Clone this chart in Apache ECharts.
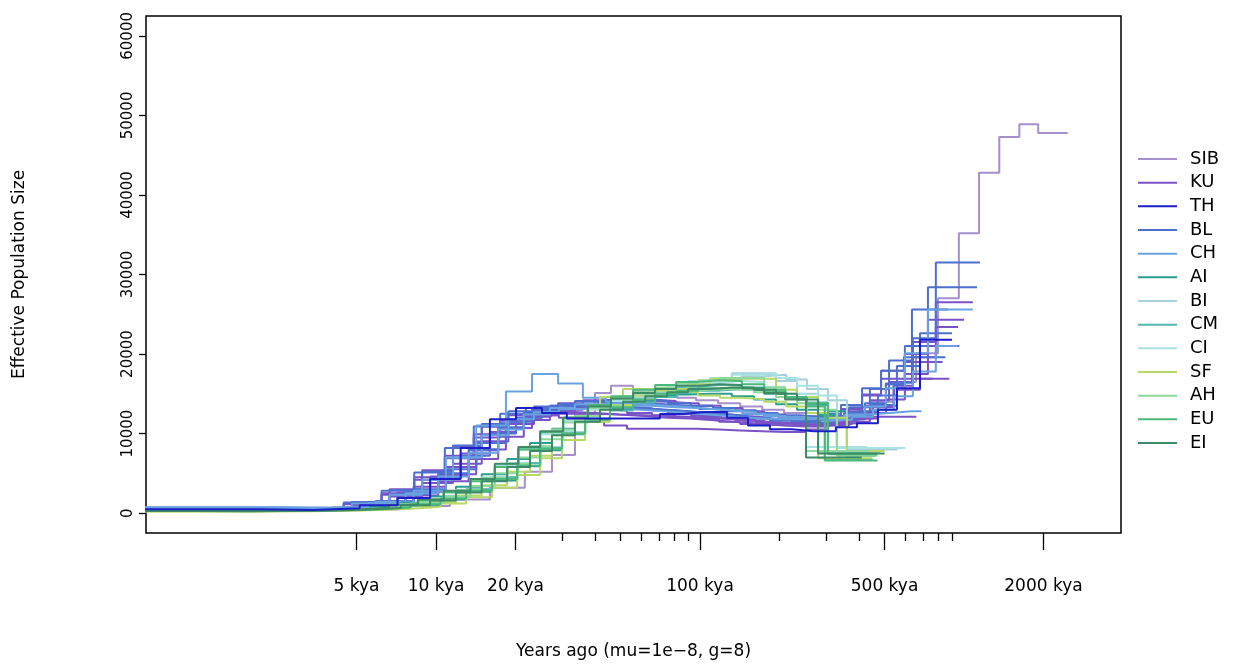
<!DOCTYPE html>
<html>
<head>
<meta charset="utf-8">
<script src="https://cdn.jsdelivr.net/npm/echarts@6/dist/echarts.min.js"></script>
<style>
  html, body { margin: 0; padding: 0; background: #fff; }
  #chart { width: 1235px; height: 666px; }
</style>
</head>
<body>
<div id="chart"></div>
<script>
(function() {
  var font = 'DejaVu Sans';

  // ── populations (legend order) ──
  var popNames = ['SIB', 'KU', 'TH', 'BL', 'CH', 'AI', 'BI', 'CM', 'CI', 'SF', 'AH', 'EU', 'EI'];
  var popColors = ['#a58fcc', '#7b52c6', '#1c1ec8', '#4d70d0', '#69a2e0', '#2a9d8f', '#a5d0dc',
                   '#52b8b0', '#a8e2e4', '#b5d866', '#8fd89a', '#4cb87a', '#3d8a66'];

  // ── axis ticks ──
  var xMajorKya = [5, 10, 20, 100, 500, 2000];
  var xMajorLabels = ['5 kya', '10 kya', '20 kya', '100 kya', '500 kya', '2000 kya'];
  var xMinorKya = [30, 40, 50, 60, 70, 80, 90, 200, 300, 400, 600, 700, 800, 900];
  var yTicks = [0, 10000, 20000, 30000, 40000, 50000, 60000];
  var xMin = 0.797, xMax = 3932;

  // ── PSMC interval start times (kya), per sample scaling ──
  var gridA = [0.6, 1.96, 3.22, 4.80, 6.67, 8.86, 11.6, 14.9, 18.8, 23.5, 29.2, 35.7, 43.3, 52.9, 65.8, 80.4, 97.5, 118, 142, 172, 208, 252, 305, 367, 440, 520, 635];
  var gridB = [0.6, 2.1, 3.45, 5.14, 7.15, 9.5, 12.4, 16.0, 20.1, 25.2, 31.3, 38.3, 46.4, 56.7, 70.5, 86.2, 104.5, 126.6, 152, 184, 223, 270, 327, 393, 472, 557, 681];
  var gridC = [0.6, 2.25, 3.7, 5.51, 7.66, 10.2, 13.3, 17.2, 21.5, 27.0, 33.6, 41.1, 49.7, 60.8, 75.6, 92.4, 112, 136, 163, 197, 239, 289, 351, 421, 506, 597, 730];
  var gridD = [0.6, 2.41, 3.96, 5.91, 8.22, 10.9, 14.2, 18.4, 23.1, 29.0, 36.0, 44.0, 53.3, 65.1, 81.0, 99.0, 120, 145, 175, 211, 256, 310, 376, 452, 542, 640, 782];
  var gridE = [0.6, 1.83, 3.0, 4.47, 6.22, 8.27, 10.8, 13.9, 17.5, 21.9, 27.2, 33.3, 40.4, 49.3, 61.3, 75.0, 90.9, 110, 132, 160, 194, 235, 284, 342, 411, 485, 592];
  var gridG = [0.6, 1.25, 2.05, 3.05, 4.24, 5.63, 7.35, 9.49, 11.9, 14.9, 18.6, 22.7, 27.5, 33.6, 41.8, 51.1, 62.0, 75.1, 90.1, 109, 132, 160, 194, 233, 280, 330, 404];
  var gridH = [0.6, 1.12, 1.84, 2.74, 3.82, 5.07, 6.62, 8.54, 10.7, 13.5, 16.7, 20.5, 24.8, 30.3, 37.6, 46.0, 55.8, 67.6, 81.2, 98.3, 119, 144, 175, 210, 252, 297, 364];
  var gridI = [0.6, 1.36, 2.23, 3.33, 4.63, 6.15, 8.02, 10.4, 13.0, 16.3, 20.3, 24.8, 30.0, 36.7, 45.6, 55.8, 67.6, 81.9, 98.3, 119, 144, 175, 212, 254, 305, 360, 441];
  var gridSIB = [0.6, 3.95, 7.3, 11.3, 16.0, 21.7, 27.5, 33.6, 40.0, 46.0, 55.7, 67.5, 81.8, 96.6, 117, 142, 172, 208, 252, 306, 370, 448, 543, 658, 797, 956, 1140, 1360, 1620, 1910];

  // ── effective population size per interval ──
  var sib1 = [300, 500, 900, 1700, 3200, 5200, 7300, 12500, 15100, 16000, 15300, 14800, 14500, 14200, 13800, 13400, 13000, 12600, 12200, 12000, 12500, 14000, 16500, 20100, 27000, 35200, 42800, 47300, 48900, 47800];

  var ku1 = [600, 450, 700, 1300, 2600, 4600, 7500, 10200, 12000, 13000, 13500, 13400, 13200, 13000, 12800, 12600, 12400, 12200, 12000, 11700, 11400, 11200, 11300, 11900, 13500, 15500, 16900];
  var ku2 = [500, 400, 650, 1400, 3000, 5400, 8300, 10900, 12300, 12900, 13200, 13100, 12900, 12600, 12300, 12000, 11800, 11500, 11200, 11000, 10900, 10900, 11400, 12300, 14200, 16500, 19000];
  var ku3 = [550, 420, 600, 1100, 2200, 4000, 6800, 9600, 11700, 12800, 13600, 14000, 14100, 14000, 13800, 13500, 13200, 12900, 12500, 12100, 11800, 11600, 11800, 12600, 14300, 17500, 21000];
  var ku4 = [450, 380, 550, 1000, 2100, 3800, 6200, 9000, 11200, 12300, 12000, 11500, 11000, 10600, 10600, 10600, 10500, 10400, 10300, 10200, 10200, 10500, 11000, 11500, 12100, 12100, 12100];
  var ku5 = [650, 500, 750, 1500, 3300, 5800, 9000, 11600, 13000, 13800, 14200, 14400, 14300, 14100, 13800, 13500, 13200, 12800, 12400, 12000, 11700, 11600, 12000, 13300, 16000, 19600, 23400];
  var ku6 = [500, 420, 620, 1200, 2500, 4500, 7200, 9900, 11600, 12400, 12700, 12600, 12400, 12200, 12000, 11900, 11700, 11500, 11300, 11100, 11000, 11200, 11700, 12800, 14800, 17900, 19000];
  var ku7 = [520, 430, 630, 1250, 2600, 4800, 7900, 10600, 12300, 13100, 13400, 13300, 13100, 12900, 12600, 12300, 12000, 11700, 11400, 11200, 11100, 11300, 12000, 13500, 16300, 20000, 24300];
  var ku8 = [480, 400, 580, 1100, 2300, 4200, 6900, 9500, 11300, 12100, 12500, 12500, 12400, 12300, 12200, 12100, 12000, 11800, 11600, 11400, 11300, 11500, 12100, 13100, 14900, 16900, 16900];
  var ku9 = [560, 460, 680, 1300, 2700, 4900, 8000, 10700, 12300, 13000, 13300, 13200, 13000, 12800, 12500, 12200, 11900, 11600, 11300, 11100, 11000, 11200, 11900, 13400, 16500, 21500, 26500];

  var th1 = [500, 400, 600, 1000, 1900, 4300, 8200, 11800, 13200, 12600, 11900, 11900, 11900, 11900, 12450, 12700, 12700, 12000, 11000, 10550, 10300, 10300, 10800, 11300, 13000, 15700, 21800];

  var bl1 = [700, 600, 800, 1500, 3000, 5500, 8800, 11500, 13000, 13600, 14000, 14000, 13800, 13600, 13400, 13100, 12800, 12500, 12200, 11900, 11700, 11800, 12300, 13600, 16400, 22000, 31500];
  var bl2 = [600, 500, 700, 1300, 2700, 5000, 8000, 10800, 12600, 13500, 14100, 14300, 14300, 14100, 13800, 13500, 13200, 12900, 12600, 12300, 12100, 12100, 12600, 13800, 16200, 21000, 28400];
  var bl3 = [550, 450, 650, 1200, 2400, 4400, 7200, 10000, 12000, 13000, 13400, 13400, 13200, 13000, 12800, 12600, 12400, 12200, 11900, 11600, 11400, 11400, 11800, 12800, 14800, 18500, 22600];
  var bl4 = [650, 550, 750, 1400, 2900, 5200, 8500, 11200, 12800, 13400, 13700, 13600, 13400, 13200, 12900, 12700, 12500, 12300, 12000, 11800, 11600, 11700, 12200, 13300, 15600, 19200, 25600];
  var bl5 = [600, 520, 720, 1350, 2800, 5100, 8200, 10900, 12500, 13200, 13500, 13500, 13400, 13200, 13000, 12800, 12600, 12300, 12000, 11800, 11700, 11900, 12500, 13600, 15700, 17900, 19600];

  var ch1 = [750, 700, 800, 1400, 2800, 7000, 11000, 15300, 17500, 16300, 14500, 14000, 13500, 13300, 13200, 13000, 12800, 12500, 12200, 11900, 11700, 11700, 12100, 13000, 14700, 17800, 21000];
  var ch2 = [600, 500, 700, 1200, 2300, 4200, 7000, 9800, 11800, 12700, 13100, 13200, 13100, 12900, 12700, 12500, 12300, 12100, 11900, 11800, 11800, 11900, 12100, 12400, 12600, 12800, 12800];
  var ch3 = [550, 480, 650, 1250, 2500, 4600, 7600, 10500, 12400, 13200, 13700, 13800, 13700, 13500, 13300, 13100, 12900, 12700, 12400, 12100, 11900, 11900, 12300, 13400, 15700, 20100, 25600];

  var ai1 = [300, 260, 300, 360, 470, 680, 1050, 1700, 2700, 4100, 5900, 7900, 9900, 11600, 13000, 14000, 14700, 15200, 15500, 15600, 15400, 15000, 14400, 13600, 12800, 7200, 7200];
  var ai2 = [340, 300, 340, 420, 560, 820, 1300, 2100, 3300, 4900, 6800, 8800, 10600, 12100, 13300, 14100, 14600, 14900, 15000, 15000, 14700, 14300, 13700, 13000, 12300, 8200, 8200];
  var bi1 = [320, 280, 320, 390, 520, 760, 1200, 1900, 3000, 4500, 6300, 8300, 10200, 11900, 13400, 14500, 15300, 15900, 16400, 16800, 17200, 17400, 16800, 15600, 14200, 8000, 8000];
  var bi2 = [300, 270, 310, 370, 490, 720, 1100, 1800, 2900, 4400, 6200, 8300, 10400, 12100, 13500, 14500, 15200, 15800, 16300, 16900, 17600, 17600, 16600, 15000, 7600, 7600, 7600];
  var cm1 = [290, 250, 290, 350, 460, 670, 1030, 1650, 2700, 4200, 6000, 8100, 10100, 11900, 13300, 14300, 15000, 15500, 15900, 16100, 16100, 15800, 15200, 14400, 13500, 6800, 6800];
  var cm2 = [330, 290, 330, 400, 530, 780, 1200, 1900, 3000, 4500, 6300, 8200, 10000, 11600, 12900, 13900, 14600, 15100, 15400, 15600, 15500, 15200, 14600, 13900, 7700, 7700, 7700];
  var ci1 = [310, 280, 320, 380, 500, 740, 1150, 1850, 2950, 4500, 6300, 8400, 10400, 12100, 13600, 14700, 15500, 16100, 16600, 17000, 17400, 17500, 17000, 16000, 14800, 8200, 8200];
  var ci2 = [290, 260, 300, 360, 470, 690, 1060, 1700, 2750, 4200, 6000, 8000, 9900, 11600, 13000, 14100, 14900, 15500, 16000, 16400, 16600, 16500, 15900, 15000, 8300, 8300, 8300];
  var sf1 = [250, 220, 260, 320, 420, 600, 900, 1400, 2200, 3500, 5200, 7200, 9800, 11800, 14600, 15600, 15600, 15600, 16200, 16900, 16900, 16900, 15500, 14600, 6900, 6900, 6900];
  var sf2 = [200, 200, 240, 300, 400, 550, 800, 1200, 2000, 3200, 4800, 6900, 9200, 11500, 13600, 14800, 15400, 15200, 14800, 14500, 14300, 14000, 13400, 12600, 12000, 7800, 7800];
  var ah1 = [280, 250, 280, 330, 420, 580, 850, 1300, 2100, 3400, 5000, 7000, 9300, 11400, 13200, 14400, 15200, 15800, 16300, 16700, 17000, 17000, 15800, 14600, 7800, 7800, 7800];
  var ah2 = [300, 260, 300, 360, 480, 700, 1100, 1800, 2900, 4400, 6200, 8400, 10500, 12200, 13500, 14300, 14900, 15300, 15500, 15600, 15500, 15200, 14600, 13800, 13000, 7200, 7200];
  var eu1 = [300, 260, 300, 350, 450, 650, 1000, 1600, 2600, 4000, 5800, 8000, 10200, 12000, 13600, 14700, 15500, 16100, 16500, 16700, 16600, 16200, 15500, 14500, 13400, 6600, 6600];
  var eu2 = [320, 280, 320, 380, 500, 720, 1100, 1800, 2800, 4300, 6000, 8100, 10000, 11800, 13300, 14300, 15000, 15400, 15700, 15800, 15600, 15200, 14600, 13800, 7400, 7400, 7400];
  var ei1 = [280, 250, 290, 340, 440, 640, 980, 1600, 2600, 4000, 5800, 7800, 9800, 11500, 13000, 14000, 14700, 15200, 15600, 15800, 15800, 15500, 15000, 14300, 7500, 7500, 7500];
  var ei2 = [300, 270, 300, 360, 460, 680, 1050, 1700, 2800, 4300, 6200, 8300, 10300, 12000, 13400, 14400, 15100, 15600, 16000, 16200, 16100, 15700, 15100, 14300, 7000, 7000, 7000];

  // sample: population, time grid, end of last interval (kya), Ne values
  var samples = [
    ['SIB', gridSIB, 2470, sib1],
    ['KU', gridB, 880, ku1], ['KU', gridA, 830, ku2], ['KU', gridC, 960, ku3],
    ['KU', gridA, 660, ku4], ['KU', gridD, 950, ku5], ['KU', gridE, 800, ku6],
    ['KU', gridC, 1000, ku7], ['KU', gridE, 760, ku8], ['KU', gridD, 1080, ku9],
    ['BL', gridD, 1150, bl1], ['BL', gridC, 1120, bl2], ['BL', gridB, 900, bl3],
    ['BL', gridA, 870, bl4], ['BL', gridE, 850, bl5],
    ['CH', gridD, 950, ch1], ['CH', gridA, 690, ch2], ['CH', gridC, 1080, ch3],
    ['AI', gridI, 460, ai1], ['AI', gridG, 480, ai2],
    ['BI', gridI, 560, bi1], ['BI', gridG, 450, bi2],
    ['CM', gridH, 450, cm1], ['CM', gridI, 480, cm2],
    ['CI', gridG, 600, ci1], ['CI', gridH, 430, ci2],
    ['SF', gridG, 448, sf1], ['SF', gridI, 500, sf2],
    ['AH', gridH, 440, ah1], ['AH', gridG, 470, ah2],
    ['EU', gridH, 470, eu1], ['EU', gridI, 470, eu2],
    ['EI', gridG, 500, ei1], ['EI', gridH, 410, ei2],
    ['TH', gridB, 900, th1]
  ];

  var series = samples.map(function(s) {
    var grid = s[1], ne = s[3];
    var pts = ne.map(function(v, i) { return [grid[i], v]; });
    pts.push([s[2], ne[ne.length - 1]]);
    var c = popColors[popNames.indexOf(s[0])];
    return {
      name: s[0], type: 'line', step: 'end', data: pts,
      xAxisIndex: 0, yAxisIndex: 0,
      showSymbol: false, symbol: 'none', silent: true,
      color: c, lineStyle: { color: c, width: 2 }
    };
  });

  var majorPos = xMajorKya.map(function(v) { return Math.log10(v); });
  var minorPos = xMinorKya.map(function(v) { return Math.log10(v); });

  var chart = echarts.init(document.getElementById('chart'), null, { renderer: 'canvas' });
  chart.setOption({
    animation: false,
    backgroundColor: '#fff',
    grid: { left: 146, right: 114, top: 16, bottom: 133, show: true, borderColor: '#000', borderWidth: 1.5, backgroundColor: 'transparent' },
    legend: {
      data: popNames, orient: 'vertical', left: 1133, top: 144,
      icon: 'rect', itemWidth: 39, itemHeight: 2, itemGap: 3.67,
      itemStyle: { borderWidth: 0 },
      selectedMode: false,
      textStyle: { fontFamily: font, fontSize: 18, color: '#000', lineHeight: 20, padding: [0, 0, 0, 8] }
    },
    xAxis: [
      { type: 'log', min: xMin, max: xMax, show: false, axisLine: { onZero: false } },
      {
        type: 'value', min: Math.log10(xMin), max: Math.log10(xMax), position: 'bottom',
        axisLine: { show: false, onZero: false }, splitLine: { show: false },
        axisTick: { show: true, customValues: majorPos, length: 17, lineStyle: { color: '#000', width: 1.3 } },
        axisLabel: {
          customValues: majorPos, margin: 45, fontFamily: font, fontSize: 17, color: '#000',
          formatter: function(v) {
            for (var i = 0; i < majorPos.length; i++) {
              if (Math.abs(majorPos[i] - v) < 1e-6) return xMajorLabels[i];
            }
            return '';
          }
        },
        name: 'Years ago (mu=1e\u22128, g=8)', nameLocation: 'middle', nameGap: 110,
        nameTextStyle: { fontFamily: font, fontSize: 17, color: '#000' }
      },
      {
        type: 'value', min: Math.log10(xMin), max: Math.log10(xMax), position: 'bottom',
        axisLine: { show: false, onZero: false }, splitLine: { show: false },
        axisTick: { show: true, customValues: minorPos, length: 8, lineStyle: { color: '#000', width: 1.3 } },
        axisLabel: { show: false }
      }
    ],
    yAxis: {
      type: 'value', min: -2500, max: 62500,
      axisLine: { show: false, onZero: false }, splitLine: { show: false },
      axisTick: { show: true, customValues: yTicks, length: 7, lineStyle: { color: '#000', width: 1.3 } },
      axisLabel: {
        customValues: yTicks, rotate: 90, margin: 10, fontFamily: font, fontSize: 15, color: '#000',
        formatter: function(v) { return String(v); }
      },
      name: 'Effective Population Size', nameLocation: 'middle', nameGap: 118, nameRotate: 90,
      nameTextStyle: { fontFamily: font, fontSize: 17, color: '#000' }
    },
    series: series
  });
})();
</script>
</body>
</html>
